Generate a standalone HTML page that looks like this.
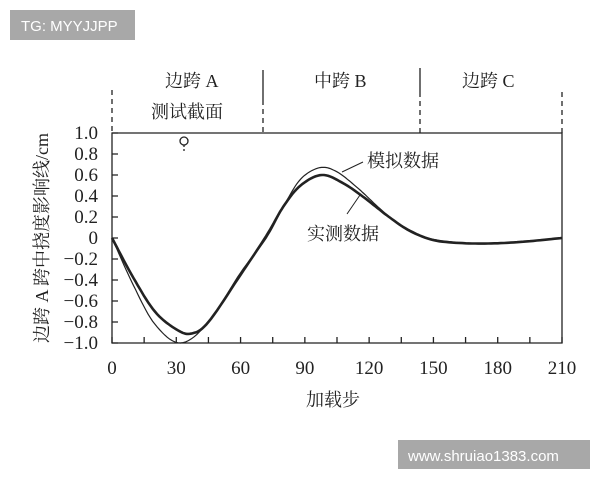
<!DOCTYPE html>
<html><head><meta charset="utf-8"><style>
body{margin:0;background:#fff;width:600px;height:480px;overflow:hidden}
text{font-family:"Liberation Serif","Noto Serif CJK SC",serif;fill:#222}
</style></head><body>
<svg id="s" width="600" height="480" xmlns="http://www.w3.org/2000/svg">
<rect x="10" y="10" width="125" height="30" fill="#a8a8a8"/>
<text x="21" y="31" style="font-family:'Liberation Sans',sans-serif;font-size:15px;fill:#fff">TG: MYYJJPP</text>
<rect x="398" y="440" width="192" height="29" fill="#a8a8a8"/>
<text x="408" y="461" style="font-family:'Liberation Sans',sans-serif;font-size:15px;fill:#fff">www.shruiao1383.com</text>
<g stroke="#222" stroke-width="1.3" fill="none">
<path d="M112 133H562V343H112Z"/>
<path d="M112 90V133M263 100V133M420 92V133M562 92V133" stroke-dasharray="5,4"/>
<path d="M263 70V100M420 68V92"/>
<circle cx="184" cy="141" r="4"/>
<path d="M184 145V152" stroke-dasharray="2,2"/>
<path d="M363 162L342 172M347 214L360 195" stroke-width="1"/>
<g id="ticks"></g>
<path id="m" stroke-width="1.2"/>
<path id="e" stroke-width="2.6"/>
</g>
<g font-size="18">
<text x="165" y="87">边跨 A</text>
<text x="151" y="118">测试截面</text>
<text x="314" y="87">中跨 B</text>
<text x="462" y="87">边跨 C</text>
<text x="367" y="167">模拟数据</text>
<text x="307" y="240">实测数据</text>
<text x="306" y="406">加载步</text>
<text transform="translate(48,238) rotate(-90)" text-anchor="middle">边跨 A 跨中挠度影响线/cm</text>
</g>
<g id="lbl" font-size="19"></g>
</svg>
<script>
var X=v=>112+v*450/210,Y=v=>238-v*105;
var t="",l="";
for(var i=0;i<=14;i++){var x=X(i*15);t+="M"+x+" 343V337";if(i%2==0)l+='<text x="'+x+'" y="374" text-anchor="middle">'+(i*15)+'</text>';}
for(var i=-5;i<=5;i++){var y=Y(i*0.2);t+="M112 "+y+"H118";var s=i==0?"0":(i<0?"−":"")+Math.abs(i*0.2).toFixed(1);l+='<text x="98" y="'+(y+6)+'" text-anchor="end">'+s+'</text>';}
document.getElementById("ticks").innerHTML='<path d="'+t+'"/>';
document.getElementById("lbl").innerHTML=l;
function cr(p){var d="M"+X(p[0][0])+" "+Y(p[0][1]);for(var i=0;i<p.length-1;i++){var p0=p[Math.max(0,i-1)],p1=p[i],p2=p[i+1],p3=p[Math.min(p.length-1,i+2)];for(var k=1;k<=10;k++){var u=k/10,u2=u*u,u3=u2*u;var f=(a,b,c,e)=>0.5*(2*b+(-a+c)*u+(2*a-5*b+4*c-e)*u2+(-a+3*b-3*c+e)*u3);d+="L"+X(f(p0[0],p1[0],p2[0],p3[0])).toFixed(1)+" "+Y(f(p0[1],p1[1],p2[1],p3[1])).toFixed(1);}}return d;}
document.getElementById("m").setAttribute("d",cr([[0,0],[10,-0.45],[20,-0.82],[32,-1.0],[45,-0.8],[60,-0.33],[72,0],[80,0.3],[88,0.56],[97,0.67],[105,0.63],[115,0.47],[125,0.28],[135,0.11],[145,0.01],[160,-0.04],[175,-0.05],[195,-0.03],[210,0]]));
document.getElementById("e").setAttribute("d",cr([[0,0],[10,-0.38],[20,-0.7],[30,-0.87],[37,-0.91],[45,-0.8],[60,-0.35],[72,0.02],[80,0.3],[88,0.5],[98,0.6],[108,0.52],[118,0.38],[128,0.22],[138,0.08],[150,-0.02],[165,-0.05],[180,-0.05],[195,-0.03],[210,0]]));
</script>
</body></html>
